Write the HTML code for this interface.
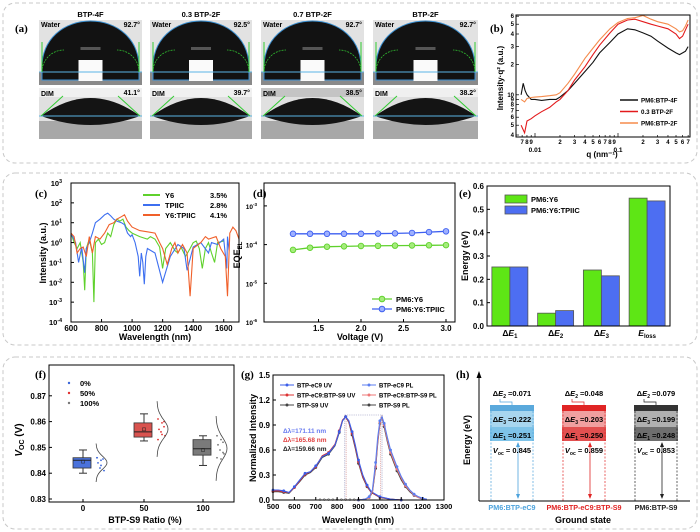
<!DOCTYPE html>
<html><head><meta charset="utf-8"><style>
body{margin:0;background:#fff}
svg{display:block;font-family:"Liberation Sans",Arial,sans-serif}
text{font-weight:bold}
</style></head><body>
<svg id="root" width="700" height="532" viewBox="0 0 700 532" xmlns="http://www.w3.org/2000/svg">
<rect x="0" y="0" width="700" height="532" fill="#fff"/>
<rect x="3" y="3" width="694" height="160" rx="12" fill="none" stroke="#c8c8c8" stroke-dasharray="4,3"/>
<rect x="3" y="173" width="694" height="172" rx="12" fill="none" stroke="#c8c8c8" stroke-dasharray="4,3"/>
<rect x="3" y="357" width="694" height="172" rx="12" fill="none" stroke="#c8c8c8" stroke-dasharray="4,3"/>
<g id="G"></g>
</svg>
<script>
const NS='http://www.w3.org/2000/svg';
const G=document.getElementById('G');
function mk(p,tag,a,t){const e=document.createElementNS(NS,tag);for(const k in a)e.setAttribute(k,a[k]);if(t!==undefined)e.textContent=t;p.appendChild(e);return e;}
function T(p,x,y,s,sz,anc,fill,name){const e=mk(p,'text',{x:x,y:y,'font-size':sz||8,'text-anchor':anc||'start',fill:fill||'#000'},s);


return e;}
function grp(name){const g=mk(G,'g',{});


return g;}
function pathFrom(pts){return pts.map((p,i)=>(i?'L':'M')+p[0].toFixed(1)+','+p[1].toFixed(1)).join(' ');}
function sup(p,x,y,base,ex,sz,anc,name){const t=T(p,x,y,base,sz,anc,'#000',name);mk(t,'tspan',{dy:-3,'font-size':(sz||8)*0.7},ex);return t;}

// ===== Panel (a) photos =====
const photoTitles=['BTP-4F','0.3 BTP-2F','0.7 BTP-2F','BTP-2F'];
const waterAngles=['92.7°','92.5°','92.7°','92.7°'];
const dimAngles=['41.1°','39.7°','38.5°','38.2°'];
const photoX=[[39,142],[150,252],[261,364],[373,478]];
const ga=grp('panel-a');
T(ga,15,32,'(a)',11,'start','#000','panel-a-label').setAttribute('font-family','Liberation Serif');
photoX.forEach((px,i)=>{
  const [x0,x1]=px, cx=(x0+x1)/2, g=mk(ga,'g',{});
  
  
  T(g,cx,17,photoTitles[i],7.5,'middle','#000','photo-title');
  mk(g,'rect',{x:x0,y:20,width:x1-x0,height:65,fill:'#e2e2e2'});
  mk(g,'rect',{x:x0,y:72,width:x1-x0,height:13,fill:'#8a8a8a'});
  mk(g,'path',{d:`M${x0+3},72 C${x0-1},4 ${x1+1},4 ${x1-3},72 L${x1-3},80 L${x0+3},80 Z`,fill:'#121212',stroke:'#3a8fd0','stroke-width':1});
  mk(g,'rect',{x:cx-10,y:47,width:20,height:3,fill:'#555'});
  mk(g,'rect',{x:cx-12,y:60,width:24,height:21,fill:'#fafafa'});
  mk(g,'line',{x1:x0,y1:72,x2:x1,y2:72,stroke:'#5ab4e5','stroke-width':1});
  mk(g,'path',{d:`M${x0+3},72 A22,22 0 0 1 ${x0+25},50`,fill:'none',stroke:'#3c3','stroke-width':0.7,'stroke-dasharray':'2,1'});
  mk(g,'path',{d:`M${x1-3},72 A22,22 0 0 0 ${x1-25},50`,fill:'none',stroke:'#3c3','stroke-width':0.7,'stroke-dasharray':'2,1'});
  mk(g,'line',{x1:x0+3,y1:72,x2:x0+3,y2:42,stroke:'#3c3','stroke-width':1});
  mk(g,'line',{x1:x1-3,y1:72,x2:x1-3,y2:42,stroke:'#3c3','stroke-width':1});
  T(g,x0+2,27,'Water',7,'start','#000','water-label');
  T(g,x1-2,27,waterAngles[i],7,'end','#000','water-angle');
  mk(g,'rect',{x:x0,y:88,width:x1-x0,height:51,fill:'#e0e0e0'});
  mk(g,'rect',{x:x0,y:88,width:x1-x0,height:9,fill:i==2?'#c4c4c4':'#f0f0f0'});
  mk(g,'rect',{x:x0,y:121,width:x1-x0,height:18,fill:'#a8a8a8'});
  mk(g,'path',{d:`M${x0+2},116 Q${cx},80 ${x1-2},116 Q${cx},134 ${x0+2},116 Z`,fill:'#141414'});
  mk(g,'line',{x1:x0,y1:116,x2:x1,y2:116,stroke:'#5ab4e5','stroke-width':1});
  mk(g,'line',{x1:x0+2,y1:116,x2:x0+24,y2:96,stroke:'#3c3','stroke-width':1});
  mk(g,'line',{x1:x1-2,y1:116,x2:x1-24,y2:96,stroke:'#3c3','stroke-width':1});
  T(g,x0+2,96,'DIM',7,'start','#000','dim-label');
  T(g,x1-2,95,dimAngles[i],7,'end','#000','dim-angle');
});
</script>
<script>
// ===== Panel (b) scattering =====
const bQ_black=[0.0068,0.0072,0.0076,0.008,0.0085,0.009,0.01,0.012,0.015,0.018,0.02,0.025,0.03,0.04,0.05,0.06,0.08,0.1,0.13,0.16,0.2,0.25,0.3,0.4,0.5,0.55,0.6,0.65,0.7];
const bI_black=[10,13,11,10,9.5,9,9,8.8,9,9,9.5,11,13,17,21,26,33,40,45,44,41,38,34,29,26,25,26,27,30];
const bQ_red=[0.0068,0.0075,0.008,0.009,0.01,0.012,0.015,0.018,0.02,0.025,0.03,0.04,0.05,0.06,0.08,0.1,0.13,0.16,0.2,0.25,0.3,0.4,0.5,0.55,0.6,0.65,0.7];
const bI_red=[5,4.2,5.5,5.8,6.2,6.8,7.5,8.5,9,11,14,19,25,31,41,50,55,56,53,50,48,45,40,36,38,44,50];
const bQ_orange=[0.0068,0.0075,0.008,0.009,0.01,0.012,0.015,0.018,0.02,0.025,0.03,0.04,0.05,0.06,0.08,0.1,0.13,0.16,0.2,0.25,0.3,0.4,0.5,0.55,0.6,0.65,0.7];
const bI_orange=[9,8.5,9.2,9.4,9.5,9.6,9.8,10,10.5,13,16,23,29,35,45,52,57,58,61,56,53,50,45,42,43,48,55];
const bXTicks=[0.007,0.008,0.009,0.01,0.02,0.03,0.04,0.05,0.06,0.07,0.08,0.09,0.1,0.2,0.3,0.4,0.5,0.6,0.7];
const bXTickLabels=['7','8','9','','2','3','4','5','6','7','8','9','','2','3','4','5','6','7'];
const bYTicks=[4,5,6,7,8,9,10,20,30,40,50,60];
const bYTickLabels=['4','5','6','7','8','9','10','2','3','4','5','6'];
(function(){
const g=grp('panel-b');
const L=516,R=690,Tp=15,B=137;
const qx=q=>535+83*Math.log10(q/0.01);
const iy=v=>135-101*Math.log10(v/4);
T(g,490,32,'(b)',11,'start','#000','panel-b-label').setAttribute('font-family','Liberation Serif');
[[bQ_black,bI_black,'#111','series-pm6-btp-4f'],[bQ_red,bI_red,'#e31a1c','series-0.3-btp-2f'],[bQ_orange,bI_orange,'#f58b4c','series-pm6-btp-2f']].forEach(s=>{
 const p=mk(g,'path',{d:pathFrom(s[0].map((q,i)=>[qx(q),iy(s[1][i])])),fill:'none',stroke:s[2],'stroke-width':1.1});
 
 });
const r=mk(g,'rect',{x:L,y:Tp,width:R-L,height:B-Tp,fill:'none',stroke:'#000','stroke-width':1});


bXTicks.forEach((q,i)=>{const x=qx(q);if(x<L||x>R)return;
 mk(g,'line',{x1:x,y1:B,x2:x,y2:B-(bXTickLabels[i]===''?4:2),stroke:'#000','stroke-width':0.7});
 T(g,x,B+7,bXTickLabels[i],6,'middle','#000','x-tick-label');});
T(g,535,B+15,'0.01',6.5,'middle','#000','x-tick-label');
T(g,618,B+15,'0.1',6.5,'middle','#000','x-tick-label');
bYTicks.forEach((v,i)=>{const y=iy(v);if(y<Tp-1||y>B+1)return;
 mk(g,'line',{x1:L,y1:y,x2:L+3,y2:y,stroke:'#000','stroke-width':0.7});
 T(g,L-2,y+2,bYTickLabels[i],6,'end','#000','y-tick-label');});
const yl=T(g,0,0,'Intensity·q² (a.u.)',8,'middle','#000','y-axis-title');yl.setAttribute('transform','translate(503,78) rotate(-90)');
T(g,602,157,'q (nm⁻¹)',8,'middle','#000','x-axis-title');
const legNames=['PM6:BTP-4F','0.3 BTP-2F','PM6:BTP-2F'],legCol=['#111','#e31a1c','#f58b4c'];
legNames.forEach((n,i)=>{const y=100+i*11.5;
 const l=mk(g,'line',{x1:620,y1:y,x2:638,y2:y,stroke:legCol[i],'stroke-width':1.5});
 
 
 T(g,641,y+2.5,n,6.2,'start','#000','legend-entry');});
})();
</script>
<script>
// ===== Panel (c) =====
const cWl_Y6=[600,620,640,660,680,690,700,720,740,750,760,780,800,820,840,860,880,900,920,940,960,980,1000,1050,1100,1120,1150,1180,1200,1220,1250,1280,1300,1320,1350,1380,1400,1420,1440,1460,1480,1500,1520,1540,1560,1600];
const cI_Y6=[3,1,0.5,1,0.1,0.004,0.5,1.5,0.3,0.001,1,1.5,0.8,1,3,2,8,15,12,15,6,4,3,2,1.5,2,1.5,0.6,0.05,0.5,1,0.4,0.3,0.6,0.2,0.5,1,1.2,0.5,0.05,0.5,1,0.3,0.1,1,1.2];
const cWl_TP=[600,630,650,670,690,700,720,740,760,790,820,840,860,880,900,930,950,970,990,1000,1020,1040,1050,1060,1070,1080,1090,1100,1150,1200,1250,1300,1340,1360,1400,1450,1500,1520,1560,1600,1620,1625,1635];
const cI_TP=[3,1,0.1,0.6,0.03,0.5,1,3,10,15,25,30,22,15,12,10,8,3,2,2.5,1,0.2,0.02,0.3,0.1,0.008,0.2,0.5,0.3,0.01,0.2,0.8,0.5,0.04,0.6,1,0.3,1,0.8,1.5,0.05,2,0.4];
const cWl_MIX=[600,620,640,660,680,700,720,740,760,790,820,850,880,900,930,950,970,1000,1050,1100,1150,1180,1200,1230,1260,1280,1300,1330,1360,1380,1400,1450,1480,1500,1550,1580,1610,1625,1640,1660,1680,1700];
const cI_MIX=[3,2,0.3,0.5,0.6,0.2,2,0.3,2,1.5,3,8,10,15,20,25,12,6,4,3.5,3,1,0.5,0.08,0.5,1,0.3,0.8,0.3,0.002,0.5,1,2,1.5,2,0.5,0.2,0.002,3,6,4,1.5];
const cXTicks=[600,800,1000,1200,1400,1600];
const cYExp=[-4,-3,-2,-1,0,1,2,3];
(function(){
const g=grp('panel-c');
const L=71,R=239,Tp=183,B=322;
const xs=w=>L+(w-600)/1100*(R-L);
const ys=v=>B-(Math.log10(v)+4)/7*(B-Tp);
T(g,35,197,'(c)',11,'start','#000','panel-c-label').setAttribute('font-family','Liberation Serif');
[[cWl_Y6,cI_Y6,'#5fd12c','series-y6'],[cWl_TP,cI_TP,'#3d6ff0','series-tpiic'],[cWl_MIX,cI_MIX,'#f0602a','series-y6-tpiic']].forEach(s=>{
 const p=mk(g,'path',{d:pathFrom(s[0].map((w,i)=>[xs(w),ys(s[1][i])])),fill:'none',stroke:s[2],'stroke-width':1.1});
 
 });
const r=mk(g,'rect',{x:L,y:Tp,width:R-L,height:B-Tp,fill:'none',stroke:'#000','stroke-width':1});


cXTicks.forEach(w=>{const x=xs(w);mk(g,'line',{x1:x,y1:B,x2:x,y2:B-3,stroke:'#000'});T(g,x,B+9,String(w),8,'middle','#000','x-tick-label');});
cYExp.forEach(e=>{const y=ys(Math.pow(10,e));mk(g,'line',{x1:L,y1:y,x2:L+3,y2:y,stroke:'#000'});sup(g,L-9,y+3,'10',String(e),7.5,'end','y-tick-label');});
const yl=T(g,0,0,'Intensity (a.u.)',9,'middle','#000','y-axis-title');yl.setAttribute('transform','translate(46,253) rotate(-90)');
T(g,155,340,'Wavelength (nm)',9,'middle','#000','x-axis-title');
const ln=['Y6','TPIIC','Y6:TPIIC'],lp=['3.5%','2.8%','4.1%'],lc=['#5fd12c','#3d6ff0','#f0602a'];
ln.forEach((n,i)=>{const y=195+i*10;
 const l=mk(g,'line',{x1:143,y1:y,x2:160,y2:y,stroke:lc[i],'stroke-width':2});
 
 
 T(g,165,y+3,n,7.5,'start','#000','legend-entry');
 T(g,210,y+3,lp[i],7.5,'start','#000','legend-value');});
})();
// ===== Panel (d) =====
const dV=[1.2,1.4,1.6,1.8,2.0,2.2,2.4,2.6,2.8,3.0];
const dY6=[7.3e-5,8.3e-5,8.8e-5,9e-5,9.2e-5,9.3e-5,9.4e-5,9.5e-5,9.6e-5,9.7e-5];
const dTP=[1.9e-4,1.9e-4,1.9e-4,1.9e-4,1.9e-4,1.92e-4,1.95e-4,2.0e-4,2.1e-4,2.2e-4];
const dXTicks=[1.5,2.0,2.5,3.0];
const dYExp=[-6,-5,-4,-3];
(function(){
const g=grp('panel-d');
const L=264,R=455,Tp=183,B=322;
const xs=v=>446+(v-3.0)*85;
const ys=v=>322-(Math.log10(v)+6)*38.7;
T(g,253,197,'(d)',11,'start','#000','panel-d-label').setAttribute('font-family','Liberation Serif');
const r=mk(g,'rect',{x:L,y:Tp,width:R-L,height:B-Tp,fill:'none',stroke:'#000','stroke-width':1});


dXTicks.forEach(v=>{const x=xs(v);mk(g,'line',{x1:x,y1:B,x2:x,y2:B-3,stroke:'#000'});T(g,x,B+9,v.toFixed(1),8,'middle','#000','x-tick-label');});
dYExp.forEach(e=>{const y=ys(Math.pow(10,e));mk(g,'line',{x1:L,y1:y,x2:L+3,y2:y,stroke:'#000'});sup(g,L-7,y+3,'10',String(e),6.5,'end','y-tick-label');});
const yl=T(g,0,0,'EQE',9,'middle','#000','y-axis-title');mk(yl,'tspan',{dy:2,'font-size':6},'EL');yl.setAttribute('transform','translate(240,255) rotate(-90)');
T(g,360,340,'Voltage (V)',9,'middle','#000','x-axis-title');
[[dY6,'#5fd12c','#a5ec7c','series-pm6-y6'],[dTP,'#3d5ff0','#9eb0ff','series-pm6-y6-tpiic']].forEach(s=>{
 const p=mk(g,'path',{d:pathFrom(dV.map((v,i)=>[xs(v),ys(s[0][i])])),fill:'none',stroke:s[1],'stroke-width':1.3});
 
 
 dV.forEach((v,i)=>{const c=mk(g,'circle',{cx:xs(v),cy:ys(s[0][i]),r:2.8,fill:s[2],stroke:s[1],'stroke-width':0.9});
  
  });});
[['PM6:Y6','#5fd12c','#a5ec7c'],['PM6:Y6:TPIIC','#3d5ff0','#9eb0ff']].forEach((s,i)=>{const y=299+i*10;
 mk(g,'line',{x1:372,y1:y,x2:392,y2:y,stroke:s[1],'stroke-width':1.3});
 const c=mk(g,'circle',{cx:382,cy:y,r:2.8,fill:s[2],stroke:s[1]});
 
 
 T(g,396,y+3,s[0],7.5,'start','#000','legend-entry');});
})();
// ===== Panel (e) =====
const eCats=['ΔE1','ΔE2','ΔE3','Eloss'];
const eY6=[0.253,0.055,0.24,0.548];
const eTP=[0.253,0.066,0.215,0.536];
const eYTicks=[0,0.1,0.2,0.3,0.4,0.5,0.6];
(function(){
const g=grp('panel-e');
const L=487,R=670,Tp=186,B=326;
const ys=v=>B-v/0.6*(B-Tp);
const band=(R-L)/4;
T(g,459,197,'(e)',11,'start','#000','panel-e-label').setAttribute('font-family','Liberation Serif');
eCats.forEach((c,i)=>{const cx=L+band*(i+0.5);
 [[eY6[i],'#5ee615',-18,'bar-pm6-y6'],[eTP[i],'#4d6ef2',0,'bar-pm6-y6-tpiic']].forEach(s=>{
  const b=mk(g,'rect',{x:cx+s[2],y:ys(s[0]),width:18,height:B-ys(s[0]),fill:s[1],stroke:'#555','stroke-width':0.8});
  
  });
 const t=T(g,cx,B+10,c.startsWith('Δ')?'Δ':'',8.5,'middle','#000','x-category-label');
 mk(t,'tspan',{'font-style':'italic'},'E');mk(t,'tspan',{dy:2,'font-size':6},c.startsWith('Δ')?c.slice(2):'loss');});
const r=mk(g,'rect',{x:L,y:Tp,width:R-L,height:B-Tp,fill:'none',stroke:'#000','stroke-width':1});


eYTicks.forEach(v=>{const y=ys(v);mk(g,'line',{x1:L,y1:y,x2:L+3,y2:y,stroke:'#000'});T(g,L-3,y+3,v.toFixed(1),8,'end','#000','y-tick-label');});
const yl=T(g,0,0,'Energy (eV)',9,'middle','#000','y-axis-title');yl.setAttribute('transform','translate(468,256) rotate(-90)');
[['PM6:Y6','#5ee615'],['PM6:Y6:TPIIC','#4d6ef2']].forEach((s,i)=>{const y=195+i*11;
 const b=mk(g,'rect',{x:505,y:y,width:22,height:8,fill:s[1],stroke:'#555','stroke-width':0.8});
 
 
 T(g,531,y+7,s[0],7.5,'start','#000','legend-entry');});
})();
</script>
<script>
// ===== Panel (f) =====
const fCats=['0','50','100'];
const fQ1=[0.842,0.854,0.847],fQ3=[0.846,0.8595,0.853],fMed=[0.845,0.856,0.8495],fMin=[0.840,0.8525,0.843],fMax=[0.849,0.863,0.8545],fMean=[0.8445,0.857,0.849];
const fPts0=[0.846,0.845,0.8455,0.844,0.842,0.841,0.846,0.843];
const fPts50=[0.861,0.8595,0.858,0.857,0.856,0.8545,0.853,0.855,0.86];
const fPts100=[0.8545,0.853,0.852,0.851,0.849,0.8475,0.846,0.8455,0.848];
const fYTicks=[0.83,0.84,0.85,0.86,0.87];
(function(){
const g=grp('panel-f');
const L=49,R=234,Tp=365,B=502;
const ys=v=>499-(v-0.83)*2580;
const cx=[83,144,203];
const fill=['#4a72dc','#d9534f','#7a7a7a'],dot=['#3b66d8','#e03030','#777'];
const pts=[fPts0,fPts50,fPts100];
T(g,35,378,'(f)',11,'start','#000','panel-f-label').setAttribute('font-family','Liberation Serif');
fCats.forEach((c,i)=>{const x=cx[i]-10;
 mk(g,'line',{x1:cx[i]-4,y1:ys(fMin[i]),x2:cx[i]+4,y2:ys(fMin[i]),stroke:'#333'});
 mk(g,'line',{x1:cx[i]-4,y1:ys(fMax[i]),x2:cx[i]+4,y2:ys(fMax[i]),stroke:'#333'});
 mk(g,'line',{x1:cx[i],y1:ys(fMin[i]),x2:cx[i],y2:ys(fMax[i]),stroke:'#333'});
 const b=mk(g,'rect',{x:x,y:ys(fQ3[i]),width:18,height:ys(fQ1[i])-ys(fQ3[i]),fill:fill[i],stroke:'#333','stroke-width':0.8});
 
 
 mk(g,'line',{x1:x,y1:ys(fMed[i]),x2:x+18,y2:ys(fMed[i]),stroke:'#222'});
 mk(g,'rect',{x:cx[i]-1.5,y:ys(fMean[i])-1.5,width:3,height:3,fill:'none',stroke:'#222','stroke-width':0.5});
 pts[i].forEach((v,j)=>{const d=mk(g,'circle',{cx:cx[i]+14+(j%3)*3+(j%2),cy:ys(v),r:0.9,fill:dot[i]});
  
  });
 const m=pts[i].reduce((a,b)=>a+b,0)/pts[i].length;
 let sd=Math.sqrt(pts[i].reduce((a,b)=>a+(b-m)*(b-m),0)/pts[i].length);
 const cp=[];for(let k=-3;k<=3;k+=0.25){cp.push([cx[i]+13+11*Math.exp(-k*k/2),ys(m+k*sd*1.4)]);}
 const p=mk(g,'path',{d:pathFrom(cp),fill:'none',stroke:'#444','stroke-width':0.8});
 
 
 mk(g,'line',{x1:cx[i],y1:B,x2:cx[i],y2:B-3,stroke:'#000'});
 T(g,cx[i],B+9,c,8,'middle','#000','x-tick-label');});
const r=mk(g,'rect',{x:L,y:Tp,width:R-L,height:B-Tp,fill:'none',stroke:'#000','stroke-width':1});


fYTicks.forEach(v=>{const y=ys(v);mk(g,'line',{x1:L,y1:y,x2:L+3,y2:y,stroke:'#000'});T(g,L-3,y+3,v.toFixed(2),8,'end','#000','y-tick-label');});
const yl=T(g,0,0,'',10,'middle','#000','y-axis-title');mk(yl,'tspan',{'font-style':'italic'},'V');mk(yl,'tspan',{dy:2,'font-size':7},'OC');mk(yl,'tspan',{dy:-2},' (V)');yl.setAttribute('transform','translate(22,440) rotate(-90)');
T(g,145,523,'BTP-S9 Ratio (%)',9,'middle','#000','x-axis-title');
[['0%','#3b66d8'],['50%','#e03030'],['100%','#777']].forEach((s,i)=>{const y=383+i*10;
 const d=mk(g,'circle',{cx:69,cy:y,r:1.2,fill:s[1]});
 
 
 T(g,80,y+3,s[0],7.5,'start','#000','legend-entry');});
})();
// ===== Panel (g) =====
const gWlUV=[500,525,550,575,600,625,650,675,700,730,760,790,810,825,840,855,870,885,900,920,940,960,1000,1050,1100];
const gUV_eC9=[0.12,0.12,0.11,0.09,0.16,0.24,0.32,0.34,0.41,0.52,0.56,0.66,0.82,0.95,1.0,0.95,0.82,0.66,0.48,0.3,0.18,0.1,0.04,0.01,0];
const gUV_mix=[0.11,0.11,0.1,0.09,0.15,0.23,0.31,0.34,0.4,0.53,0.57,0.67,0.83,0.96,1.0,0.94,0.8,0.64,0.46,0.28,0.17,0.09,0.035,0.01,0];
const gUV_S9=[0.1,0.1,0.09,0.08,0.15,0.22,0.3,0.33,0.39,0.51,0.55,0.65,0.81,0.95,1.0,0.93,0.78,0.62,0.44,0.27,0.16,0.09,0.03,0.01,0];
const gWlPL=[900,930,950,965,980,990,1000,1010,1020,1035,1050,1065,1080,1100,1120,1140,1160,1180,1200,1220];
const gPL_eC9=[0,0.01,0.04,0.12,0.45,0.75,0.95,1.0,0.92,0.75,0.6,0.5,0.4,0.28,0.19,0.12,0.07,0.04,0.02,0.01];
const gPL_mix=[0,0.01,0.03,0.1,0.4,0.7,0.93,1.0,0.9,0.72,0.57,0.47,0.37,0.26,0.17,0.11,0.06,0.03,0.015,0.005];
const gPL_S9=[0,0.01,0.03,0.09,0.38,0.68,0.92,1.0,0.88,0.7,0.55,0.45,0.35,0.24,0.16,0.1,0.055,0.03,0.01,0];
const gXTicks=[500,600,700,800,900,1000,1100,1200,1300];
const gYTicks=[0,0.3,0.6,0.9,1.2,1.5];
(function(){
const g=grp('panel-g');
const L=273,R=444,Tp=375,B=500;
const xs=w=>L+(w-500)/800*(R-L);
const ys=v=>B-v/1.5*(B-Tp);
T(g,241,378,'(g)',11,'start','#000','panel-g-label').setAttribute('font-family','Liberation Serif');
mk(g,'rect',{x:xs(836),y:ys(1.02),width:xs(1010)-xs(836),height:B-ys(1.02),fill:'none',stroke:'#8a8ab8','stroke-width':0.6,'stroke-dasharray':'1.2,1'});
mk(g,'line',{x1:xs(842),y1:ys(1.0),x2:xs(842),y2:B,stroke:'#d08080','stroke-width':0.6,'stroke-dasharray':'1.2,1'});
mk(g,'line',{x1:xs(1004),y1:ys(1.0),x2:xs(1004),y2:B,stroke:'#d08080','stroke-width':0.6,'stroke-dasharray':'1.2,1'});
const ser=[[gWlUV,gUV_S9,'#444','series-btp-s9-uv'],[gWlUV,gUV_mix,'#d33','series-mix-uv'],[gWlUV,gUV_eC9,'#3b5ee8','series-btp-ec9-uv'],
 [gWlPL,gPL_S9,'#444','series-btp-s9-pl'],[gWlPL,gPL_mix,'#e77','series-mix-pl'],[gWlPL,gPL_eC9,'#5b7ef0','series-btp-ec9-pl']];
ser.forEach(s=>{
 const p=mk(g,'path',{d:pathFrom(s[0].map((w,i)=>[xs(w),ys(s[1][i])])),fill:'none',stroke:s[2],'stroke-width':1.1});
 
 
 s[0].forEach((w,i)=>{if(i%2)return;const c=mk(g,'circle',{cx:xs(w),cy:ys(s[1][i]),r:1.4,fill:s[2]});
  
  });});
for(let w=720;w<=900;w+=20){const c=mk(g,'circle',{cx:xs(w),cy:ys(0.005),r:1,fill:'none',stroke:'#666','stroke-width':0.5});
 
 }
const r=mk(g,'rect',{x:L,y:Tp,width:R-L,height:B-Tp,fill:'none',stroke:'#000','stroke-width':1});


gXTicks.forEach(w=>{const x=xs(w);mk(g,'line',{x1:x,y1:B,x2:x,y2:B-3,stroke:'#000'});T(g,x,B+9,String(w),7.5,'middle','#000','x-tick-label');});
gYTicks.forEach(v=>{const y=ys(v);mk(g,'line',{x1:L,y1:y,x2:L+3,y2:y,stroke:'#000'});T(g,L-3,y+3,v.toFixed(1),8,'end','#000','y-tick-label');});
const yl=T(g,0,0,'Normalized Intensity',9,'middle','#000','y-axis-title');yl.setAttribute('transform','translate(256,438) rotate(-90)');
T(g,358,523,'Wavelength (nm)',9,'middle','#000','x-axis-title');
T(g,283,433,'Δλ=171.11 nm',6.5,'start','#6a7cf0','delta-lambda-ec9');
T(g,283,442,'Δλ=165.68 nm',6.5,'start','#e04040','delta-lambda-mix');
T(g,283,451,'Δλ=159.66 nm',6.5,'start','#222','delta-lambda-s9');
const leg=[['BTP-eC9 UV','#3b5ee8',280,385],['BTP-eC9:BTP-S9 UV','#d33',280,395],['BTP-S9 UV','#444',280,405],['BTP-eC9 PL','#5b7ef0',362,385],['BTP-eC9:BTP-S9 PL','#e77',362,395],['BTP-S9 PL','#444',362,405]];
leg.forEach(s=>{mk(g,'line',{x1:s[2],y1:s[3],x2:s[2]+14,y2:s[3],stroke:s[1],'stroke-width':1});
 const c=mk(g,'circle',{cx:s[2]+7,cy:s[3],r:1.5,fill:s[1]});
 
 
 T(g,s[2]+17,s[3]+2.3,s[0],6,'start','#000','legend-entry');});
})();
// ===== Panel (h) =====
const hNames=['PM6:BTP-eC9','PM6:BTP-eC9:BTP-S9','PM6:BTP-S9'];
const hE2=['0.071','0.048','0.079'];
const hE3=['0.222','0.203','0.199'];
const hE1=['0.251','0.250','0.248'];
const hVoc=['0.845','0.859','0.853'];
(function(){
const g=grp('panel-h');
T(g,456,378,'(h)',11,'start','#000','panel-h-label').setAttribute('font-family','Liberation Serif');
mk(g,'line',{x1:479,y1:501,x2:479,y2:374,stroke:'#000','stroke-width':1});
mk(g,'path',{d:'M476.5,378 L479,371 L481.5,378 Z',fill:'#000'});
mk(g,'line',{x1:479,y1:501,x2:690,y2:501,stroke:'#000','stroke-width':1});
const yl=T(g,0,0,'Energy (eV)',9,'middle','#000','y-axis-title');yl.setAttribute('transform','translate(470,440) rotate(-90)');
const xs=[490,562,634],w=44;
const cap=['#5aa9dc','#e02424','#333'],e3=['#a8d6ef','#f0a0a0','#b0b0b0'],e1=['#7ec3e8','#e25050','#6e6e6e'],lab=['#4ea3dc','#e02424','#222'];
hNames.forEach((n,i)=>{const x=xs[i],cx=x+w/2;
 const b=mk(g,'g',{});
 
 
 mk(b,'rect',{x:x,y:405,width:w,height:6,fill:cap[i]});
 mk(b,'rect',{x:x,y:411,width:w,height:16,fill:e3[i]});
 mk(b,'rect',{x:x,y:427,width:w,height:14,fill:e1[i]});
 mk(b,'line',{x1:x+1,y1:411,x2:x+1,y2:501,stroke:lab[i],'stroke-width':0.7,'stroke-dasharray':'2,1.5'});
 mk(b,'line',{x1:x+w-1,y1:411,x2:x+w-1,y2:501,stroke:lab[i],'stroke-width':0.7,'stroke-dasharray':'2,1.5'});
 mk(b,'line',{x1:x+28,y1:443,x2:x+28,y2:498,stroke:lab[i],'stroke-width':0.8});
 mk(b,'path',{d:`M${x+26},447 L${x+28},442 L${x+30},447 Z`,fill:lab[i]});
 mk(b,'path',{d:`M${x+26},494 L${x+28},499 L${x+30},494 Z`,fill:lab[i]});
 mk(b,'path',{d:`M${x+10},399 L${x+10},402 L${x+22},402 L${x+22},405`,fill:'none',stroke:lab[i],'stroke-width':0.7});
 let t=T(b,cx,396,'Δ',7.5,'middle','#000','delta-e2-label');mk(t,'tspan',{'font-style':'italic'},'E');mk(t,'tspan',{dy:2,'font-size':5},'2');mk(t,'tspan',{dy:-2},' ='+hE2[i]);
 t=T(b,cx,422,'Δ',7.5,'middle','#000','delta-e3-label');mk(t,'tspan',{'font-style':'italic'},'E');mk(t,'tspan',{dy:2,'font-size':5},'3');mk(t,'tspan',{dy:-2},' ='+hE3[i]);
 t=T(b,cx,438,'Δ',7.5,'middle','#000','delta-e1-label');mk(t,'tspan',{'font-style':'italic'},'E');mk(t,'tspan',{dy:2,'font-size':5},'1');mk(t,'tspan',{dy:-2},' ='+hE1[i]);
 t=T(b,cx,453,'',7.5,'middle','#000','voc-label');mk(t,'tspan',{'font-style':'italic'},'V');mk(t,'tspan',{dy:2,'font-size':5},'oc');mk(t,'tspan',{dy:-2},' = '+hVoc[i]);
 T(g,cx,510,n,7.2,'middle',lab[i],'device-label');});
T(g,583,523,'Ground state',9,'middle','#000','x-axis-title');
})();
</script>
</body></html>
